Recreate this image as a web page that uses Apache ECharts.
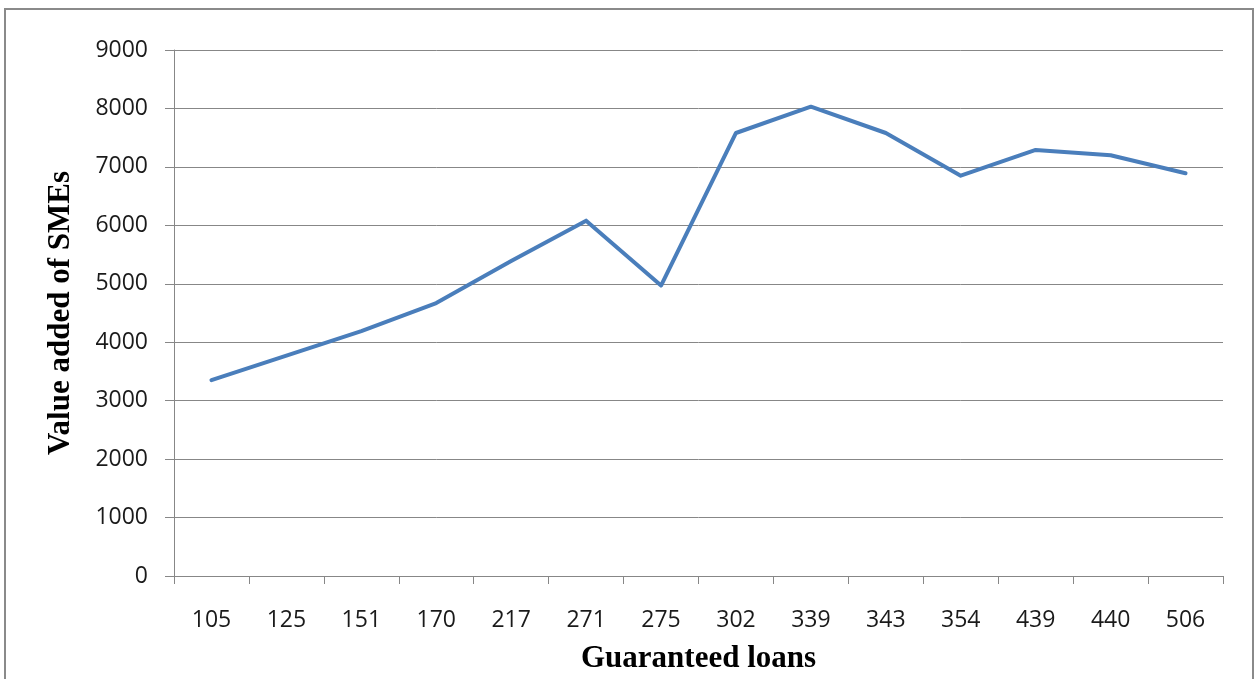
<!DOCTYPE html>
<html>
<head>
<meta charset="utf-8">
<title>Value added of SMEs vs Guaranteed loans</title>
<script src="https://cdn.jsdelivr.net/npm/echarts@6/dist/echarts.min.js"></script>
<style>
  html, body { margin: 0; padding: 0; background: #ffffff; }
  #chart { width: 1255px; height: 679px; }
</style>
</head>
<body>
<div id="chart"></div>
<script>
// Guaranteed loans (category labels along the x axis)
const loanCategories = ['105', '125', '151', '170', '217', '271', '275', '302', '339', '343', '354', '439', '440', '506'];
// Value added of SMEs for each loan level
const valueAdded = [3350, 3770, 4190, 4670, 5390, 6080, 4970, 7580, 8030, 7580, 6850, 7290, 7200, 6890];
// Value axis ticks
const yTicks = [0, 1000, 2000, 3000, 4000, 5000, 6000, 7000, 8000, 9000];

const chart = echarts.init(document.getElementById('chart'), null, { renderer: 'canvas' });

const gridColor = '#878787';
const labelFont = '"Open Sans", "Noto Sans", sans-serif';
const titleFont = '"Liberation Serif", "DejaVu Serif", serif';

chart.setOption({
  backgroundColor: '#ffffff',
  animation: false,
  graphic: [{
    type: 'rect',
    shape: { x: 5, y: 9, width: 1248, height: 700 },
    style: { fill: 'none', stroke: '#8a8a8a', lineWidth: 2 },
    silent: true,
    z: -1
  }],
  grid: { left: 174, right: 32, top: 50, bottom: 102, containLabel: false },
  xAxis: {
    type: 'category',
    data: loanCategories,
    boundaryGap: true,
    name: 'Guaranteed loans',
    nameLocation: 'middle',
    nameGap: 67,
    nameTextStyle: { fontFamily: titleFont, fontWeight: 'bold', fontSize: 31, color: '#000000' },
    axisLine: { show: true, lineStyle: { color: gridColor, width: 1 } },
    axisTick: { show: true, alignWithLabel: false, length: 8, lineStyle: { color: gridColor } },
    axisLabel: { fontFamily: labelFont, fontSize: 23, color: '#1a1a1a', margin: 33, interval: 0 },
    splitLine: { show: false }
  },
  yAxis: {
    type: 'value',
    min: yTicks[0],
    max: yTicks[yTicks.length - 1],
    interval: yTicks[1] - yTicks[0],
    name: 'Value added of SMEs',
    nameLocation: 'middle',
    nameRotate: 90,
    nameGap: 98,
    nameTextStyle: { fontFamily: titleFont, fontWeight: 'bold', fontSize: 31, color: '#000000' },
    axisLine: { show: true, lineStyle: { color: gridColor, width: 1 } },
    axisTick: { show: true, length: 9, lineStyle: { color: gridColor } },
    axisLabel: {
      fontFamily: labelFont, fontSize: 23, color: '#1a1a1a', margin: 26,
      formatter: (v) => String(v)
    },
    splitLine: { show: true, lineStyle: { color: gridColor, width: 1 } }
  },
  series: [{
    type: 'line',
    data: valueAdded,
    showSymbol: false,
    symbol: 'none',
    lineStyle: { color: '#4a7ebb', width: 4, join: 'round', cap: 'round' },
    itemStyle: { color: '#4a7ebb' }
  }]
});
</script>
</body>
</html>
